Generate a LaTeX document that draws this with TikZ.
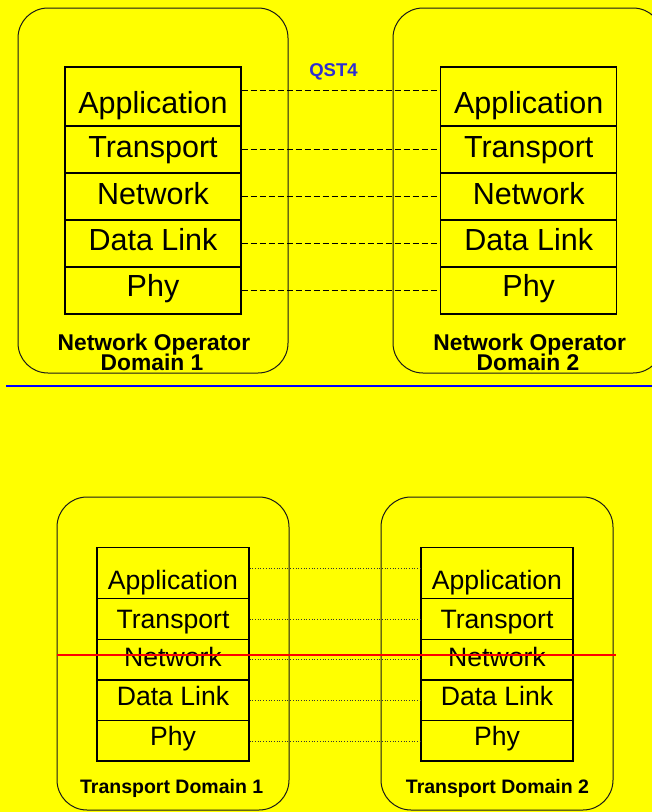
\documentclass[tikz,border=0pt]{standalone}
\usepackage{fontspec}
\setmainfont{Liberation Sans}
\definecolor{bgyellow}{RGB}{255,255,0}
\definecolor{qstblue}{RGB}{45,45,210}
\begin{document}
\begin{tikzpicture}[x=1pt,y=-1pt,
  domainbox/.style={draw=black!90, line width=1pt, rounded corners=30pt, inner sep=0pt},
  layer/.style={draw=black, line width=1.2pt, inner sep=0pt},
  bigtxt/.style={font=\fontsize{30.5}{36}\selectfont, anchor=base, inner sep=0pt},
  smalltxt/.style={font=\fontsize{26.6}{32}\selectfont, anchor=base, inner sep=0pt},
  dlabel/.style={font=\bfseries\fontsize{22.8}{24}\selectfont, anchor=base, inner sep=0pt},
  tlabel/.style={font=\bfseries\fontsize{19.5}{22}\selectfont, anchor=base, inner sep=0pt},
  peer/.style={dash pattern=on 6pt off 3pt, line width=0.9pt},
  dotpeer/.style={dotted, line width=0.7pt, draw=black!80}]
\useasboundingbox (0,0) rectangle (652,812);
\fill[bgyellow] (0,0) rectangle (652,812);
\clip (0,0) rectangle (652,812);

% ---------- top: network operator domains ----------
\node[domainbox, minimum width=270pt, minimum height=365pt] (NO1) at (153,190.5) {};
\node[domainbox, minimum width=270pt, minimum height=365pt] (NO2) at (528,190.5) {};

% left stack
\node[layer, minimum width=176pt, minimum height=59pt] (LA) at (153,96.5) {};
\node[layer, minimum width=176pt, minimum height=47pt] (LT) at (153,149.5) {};
\node[layer, minimum width=176pt, minimum height=47pt] (LN) at (153,196.5) {};
\node[layer, minimum width=176pt, minimum height=47pt] (LD) at (153,243.5) {};
\node[layer, minimum width=176pt, minimum height=47pt] (LP) at (153,290.5) {};
% right stack
\node[layer, minimum width=176pt, minimum height=59pt] (RA) at (528.7,96.5) {};
\node[layer, minimum width=176pt, minimum height=47pt] (RT) at (528.7,149.5) {};
\node[layer, minimum width=176pt, minimum height=47pt] (RN) at (528.7,196.5) {};
\node[layer, minimum width=176pt, minimum height=47pt] (RD) at (528.7,243.5) {};
\node[layer, minimum width=176pt, minimum height=47pt] (RP) at (528.7,290.5) {};

\node[bigtxt] (tLA) at (153,113.3) {Application};
\node[bigtxt] (tLT) at (153,157.3) {Transport};
\node[bigtxt] (tLN) at (153,204) {Network};
\node[bigtxt] (tLD) at (153,250) {Data Link};
\node[bigtxt] (tLP) at (153,296.7) {Phy};
\node[bigtxt] (tRA) at (528.7,113.3) {Application};
\node[bigtxt] (tRT) at (528.7,157.3) {Transport};
\node[bigtxt] (tRN) at (528.7,204) {Network};
\node[bigtxt] (tRD) at (528.7,250) {Data Link};
\node[bigtxt] (tRP) at (528.7,296.7) {Phy};

\draw[peer] ([yshift=6.5pt]LA.east) -- ([yshift=6.5pt]RA.west);
\draw[peer] (LT.east) -- (RT.west);
\draw[peer] (LN.east) -- (RN.west);
\draw[peer] (LD.east) -- (RD.west);
\draw[peer] (LP.east) -- (RP.west);

\node[font=\bfseries\fontsize{18.5}{20}\selectfont, text=qstblue, anchor=base, inner sep=0pt] (qst) at (333.5,76) {QST4};

\node[dlabel] (no1a) at (154,350) {Network Operator};
\node[dlabel] (no1b) at (152,370) {Domain 1};
\node[dlabel] (no2a) at (529.7,350) {Network Operator};
\node[dlabel] (no2b) at (528,370) {Domain 2};

% separator
\coordinate (sepL) at (6,385.5);
\coordinate (sepR) at (652,385.5);
\draw[draw={rgb,255:red,0;green,0;blue,255}, line width=2pt] (sepL) -- (sepR);

% ---------- bottom: transport domains ----------
\node[domainbox, minimum width=232pt, minimum height=313pt] (TD1) at (173,653.5) {};
\node[domainbox, minimum width=232pt, minimum height=313pt] (TD2) at (497,653.5) {};

\node[layer, minimum width=152pt, minimum height=51pt] (BLA) at (173,573.2) {};
\node[layer, minimum width=152pt, minimum height=40.6pt] (BLT) at (173,619) {};
\node[layer, minimum width=152pt, minimum height=40.7pt] (BLN) at (173,659.65) {};
\node[layer, minimum width=152pt, minimum height=40.7pt] (BLD) at (173,700.35) {};
\node[layer, minimum width=152pt, minimum height=40.3pt] (BLP) at (173,740.85) {};
\node[layer, minimum width=152pt, minimum height=51pt] (BRA) at (497,573.2) {};
\node[layer, minimum width=152pt, minimum height=40.6pt] (BRT) at (497,619) {};
\node[layer, minimum width=152pt, minimum height=40.7pt] (BRN) at (497,659.65) {};
\node[layer, minimum width=152pt, minimum height=40.7pt] (BRD) at (497,700.35) {};
\node[layer, minimum width=152pt, minimum height=40.3pt] (BRP) at (497,740.85) {};

\node[smalltxt] (tBLA) at (173,589.3) {Application};
\node[smalltxt] (tBLT) at (173,628.3) {Transport};
\node[smalltxt] (tBLN) at (173,666.7) {Network};
\node[smalltxt] (tBLD) at (173,705.7) {Data Link};
\node[smalltxt] (tBLP) at (173,745) {Phy};
\node[smalltxt] (tBRA) at (497,589.3) {Application};
\node[smalltxt] (tBRT) at (497,628.3) {Transport};
\node[smalltxt] (tBRN) at (497,666.7) {Network};
\node[smalltxt] (tBRD) at (497,705.7) {Data Link};
\node[smalltxt] (tBRP) at (497,745) {Phy};

\draw[dotpeer] ([yshift=5pt]BLA.east) -- ([yshift=5pt]BRA.west);
\draw[dotpeer] (BLT.east) -- (BRT.west);
\draw[dotpeer] (BLN.east) -- (BRN.west);
\draw[dotpeer] (BLD.east) -- (BRD.west);
\draw[dotpeer] (BLP.east) -- (BRP.west);

\node[tlabel] (td1) at (171.7,793.3) {Transport Domain 1};
\node[tlabel] (td2) at (497.5,793.3) {Transport Domain 2};

% red cut line
\coordinate (redL) at (57,654.7);
\coordinate (redR) at (616,654.7);
\draw[red, line width=1.6pt] (redL) -- (redR);
\end{tikzpicture}
\end{document}
